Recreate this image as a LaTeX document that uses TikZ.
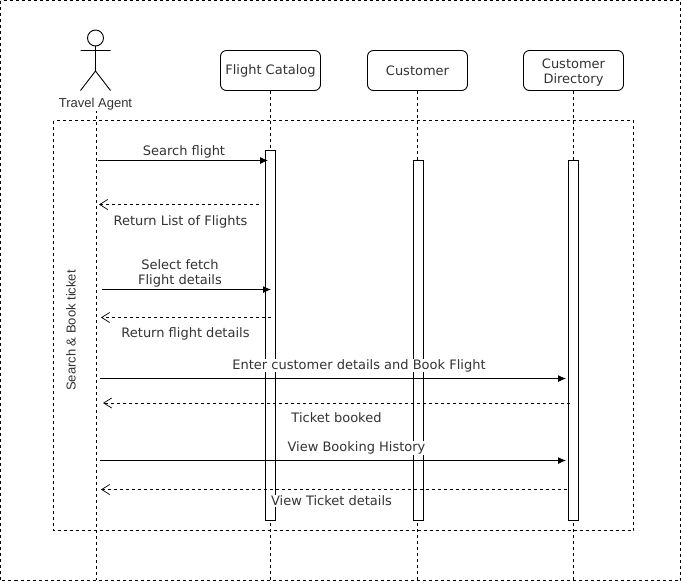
\documentclass[tikz,border=0pt]{standalone}
\usepackage{fontspec}
\setmainfont{DejaVu Sans}
\newfontfamily\actorfont{Liberation Sans}
\usetikzlibrary{arrows.meta}
\definecolor{txt}{HTML}{333333}
\tikzset{
  x=1pt,y=-1pt,
  frameline/.style={line width=0.8pt,dash pattern=on 3pt off 3pt},
  headbox/.style={draw,line width=0.9pt,rounded corners=6pt,minimum width=100pt,minimum height=40pt,align=center,inner sep=0pt,font=\fontsize{13}{15}\selectfont,text=txt,fill=white},
  actbox/.style={draw,line width=0.9pt,fill=white,minimum width=10pt,inner sep=0pt},
  msg/.style={font=\fontsize{13}{15}\selectfont,text=txt,fill=white,inner sep=0.5pt,align=center},
  call/.style={line width=0.9pt,-{Latex[length=8pt,width=7pt]}},
  ret/.style={line width=0.8pt,dash pattern=on 3pt off 3pt,-{Straight Barb[length=8pt,width=10pt,line width=0.7pt]}}
}
\begin{document}
\begin{tikzpicture}
\useasboundingbox (0,0) rectangle (681,584);
\draw[frameline] (0.5,0.5) rectangle (680.5,580.5);
% lifelines
\coordinate (lA) at (96.5,110);
\coordinate (lAe) at (96.5,580);
\node[headbox] (fc) at (270.5,70.5) {Flight Catalog};
\node[headbox] (cu) at (417.5,70.5) {Customer};
\node[headbox] (cd) at (573.5,70.5) {\rule{0pt}{14pt}Customer\\Directory};
\coordinate (fce) at (270.5,580);
\coordinate (cue) at (417.5,580);
\coordinate (cde) at (573.5,580);
\draw[frameline] (lA) -- (lAe);
\draw[frameline] (fc.south) -- (fce);
\draw[frameline] (cu.south) -- (cue);
\draw[frameline] (cd.south) -- (cde);
% inner frame
\draw[frameline] (53.5,120.5) rectangle (633.5,530.5);
% activations
\node[actbox,minimum height=370pt] (a1) at (270.5,335.5) {};
\node[actbox,minimum height=360pt] (a2) at (418.5,340.5) {};
\node[actbox,minimum height=360pt] (a3) at (573.5,340.5) {};
% actor
\draw[line width=0.9pt] (95.5,38) circle (8);
\draw[line width=0.9pt] (95.5,46) -- (95.5,71) (80.5,50.5) -- (110.5,50.5) (80.5,90.5) -- (95.5,71) -- (110.5,90.5);
\node[font=\actorfont\fontsize{13}{15}\selectfont,text=txt,fill=white,inner sep=0.5pt] (ta) at (95.5,104.5) {Travel Agent};
\node[font=\actorfont\fontsize{13}{15}\selectfont,text=txt,rotate=90] (sb) at (71,330.5) {Search \& Book ticket};
% messages
\coordinate (m1a) at (98,160.5); \coordinate (m1b) at (268,160.5);
\coordinate (m2a) at (259,204.5); \coordinate (m2b) at (99,204.5);
\coordinate (m3a) at (102,289.5); \coordinate (m3b) at (271,289.5);
\coordinate (m4a) at (271,317.5); \coordinate (m4b) at (101,317.5);
\coordinate (m5a) at (100,378.5); \coordinate (m5b) at (566,378.5);
\coordinate (m6a) at (570,403); \coordinate (m6b) at (103,403);
\coordinate (m7a) at (100,460.5); \coordinate (m7b) at (566,460.5);
\coordinate (m8a) at (567,489.5); \coordinate (m8b) at (101,489.5);
\node[msg] (t1) at (184,152) {Search flight};
\node[msg] (t2) at (180.5,222) {Return List of Flights};
\node[msg] (t3) at (180,273.5) {Select fetch\hspace{4pt}\\Flight details};
\node[msg] (t4) at (185.5,334) {Return flight details};
\node[msg] (t5) at (359,365.5) {Enter customer details and Book Flight};
\node[msg] (t6) at (336.5,418) {Ticket booked};
\node[msg] (t7) at (356.5,448) {View Booking History};
\node[msg] (t8) at (331.5,501) {View Ticket details};
\draw[call] (m1a) -- (m1b);
\draw[ret] (m2a) -- (m2b);
\draw[call] (m3a) -- (m3b);
\draw[ret] (m4a) -- (m4b);
\draw[call] (m5a) -- (m5b);
\draw[ret] (m6a) -- (m6b);
\draw[call] (m7a) -- (m7b);
\draw[ret] (m8a) -- (m8b);
\end{tikzpicture}
\end{document}
